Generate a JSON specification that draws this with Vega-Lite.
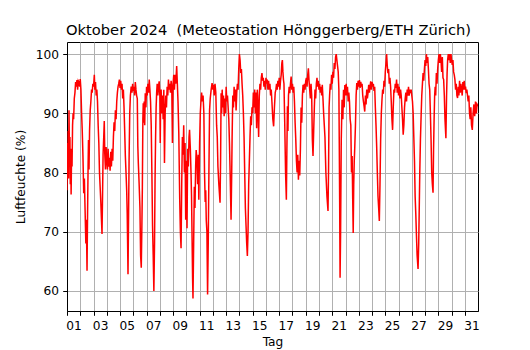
{
"$schema": "https://vega.github.io/schema/vega-lite/v6.json",
"width": 411, "height": 269,
"autosize": {"type": "none"},
"padding": {"left": 67, "top": 42, "right": 52, "bottom": 39},
"background": "white",
"config": {"view": {"stroke": "black", "strokeWidth": 1}, "font": "DejaVu Sans"},
"title": {"text": "Oktober 2024\u00a0 (Meteostation Hönggerberg/ETH Zürich)", "font": "DejaVu Sans", "fontSize": 14.7, "fontWeight": "normal", "color": "black", "anchor": "middle", "baseline": "alphabetic", "offset": 7, "dy": 15, "dx": -4},
"data": {"values": [
{"tag":1.00,"rh":77},{"tag":1.03,"rh":85},{"tag":1.06,"rh":80},{"tag":1.09,"rh":87},{"tag":1.12,"rh":79},{"tag":1.15,"rh":90.5},{"tag":1.19,"rh":82},{"tag":1.22,"rh":86},{"tag":1.25,"rh":78},{"tag":1.28,"rh":84},{"tag":1.31,"rh":76.3},{"tag":1.35,"rh":84},{"tag":1.38,"rh":81},{"tag":1.42,"rh":88},{"tag":1.46,"rh":90},{"tag":1.50,"rh":89},{"tag":1.55,"rh":92.5},{"tag":1.60,"rh":93.5},{"tag":1.65,"rh":95.3},{"tag":1.70,"rh":94.5},{"tag":1.75,"rh":95.6},{"tag":1.80,"rh":94},{"tag":1.85,"rh":95.5},{"tag":1.90,"rh":95.3},{"tag":1.95,"rh":94.5},{"tag":2.00,"rh":95.8},
{"tag":2.05,"rh":94},{"tag":2.10,"rh":90},{"tag":2.15,"rh":87},{"tag":2.20,"rh":83},{"tag":2.26,"rh":76.5},{"tag":2.31,"rh":79},{"tag":2.36,"rh":74},{"tag":2.42,"rh":68},{"tag":2.46,"rh":72},{"tag":2.51,"rh":63.4},{"tag":2.55,"rh":73},{"tag":2.59,"rh":81},{"tag":2.62,"rh":85.5},{"tag":2.66,"rh":80.5},{"tag":2.70,"rh":87},{"tag":2.75,"rh":90.5},{"tag":2.80,"rh":92},{"tag":2.85,"rh":94},{"tag":2.90,"rh":93.5},{"tag":2.95,"rh":95},{"tag":3.00,"rh":94.5},
{"tag":3.06,"rh":96.5},{"tag":3.10,"rh":94},{"tag":3.15,"rh":95.3},{"tag":3.20,"rh":93},{"tag":3.25,"rh":94},{"tag":3.30,"rh":92},{"tag":3.35,"rh":88},{"tag":3.40,"rh":85},{"tag":3.45,"rh":80},{"tag":3.50,"rh":77.5},{"tag":3.55,"rh":75},{"tag":3.60,"rh":72},{"tag":3.64,"rh":69.6},{"tag":3.68,"rh":76},{"tag":3.72,"rh":83},{"tag":3.77,"rh":86},{"tag":3.81,"rh":88.7},{"tag":3.85,"rh":83},{"tag":3.90,"rh":80.5},{"tag":3.95,"rh":84.3},{"tag":4.00,"rh":82},
{"tag":4.05,"rh":80.5},{"tag":4.10,"rh":84},{"tag":4.15,"rh":81},{"tag":4.20,"rh":82.5},{"tag":4.25,"rh":80.3},{"tag":4.30,"rh":83.5},{"tag":4.35,"rh":81},{"tag":4.40,"rh":84},{"tag":4.45,"rh":82},{"tag":4.50,"rh":86},{"tag":4.55,"rh":88.5},{"tag":4.60,"rh":87},{"tag":4.65,"rh":90.5},{"tag":4.70,"rh":89},{"tag":4.75,"rh":92},{"tag":4.80,"rh":93.5},{"tag":4.85,"rh":94.5},{"tag":4.90,"rh":95},{"tag":4.95,"rh":95.7},{"tag":5.00,"rh":94.3},
{"tag":5.05,"rh":95.5},{"tag":5.10,"rh":94},{"tag":5.15,"rh":95},{"tag":5.20,"rh":92.5},{"tag":5.25,"rh":94},{"tag":5.30,"rh":91},{"tag":5.35,"rh":87},{"tag":5.40,"rh":82.8},{"tag":5.45,"rh":80},{"tag":5.50,"rh":77},{"tag":5.54,"rh":73},{"tag":5.57,"rh":68},{"tag":5.60,"rh":62.8},{"tag":5.64,"rh":72},{"tag":5.68,"rh":82},{"tag":5.73,"rh":90},{"tag":5.78,"rh":93},{"tag":5.84,"rh":94.5},{"tag":5.90,"rh":93.5},{"tag":5.95,"rh":95},{"tag":6.00,"rh":93.8},
{"tag":6.05,"rh":94.5},{"tag":6.10,"rh":93},{"tag":6.15,"rh":95.3},{"tag":6.20,"rh":94},{"tag":6.25,"rh":93},{"tag":6.30,"rh":92.5},{"tag":6.34,"rh":84.5},{"tag":6.38,"rh":81.5},{"tag":6.44,"rh":78},{"tag":6.50,"rh":74},{"tag":6.55,"rh":66},{"tag":6.60,"rh":63.9},{"tag":6.64,"rh":70},{"tag":6.68,"rh":77},{"tag":6.72,"rh":89},{"tag":6.75,"rh":91.7},{"tag":6.78,"rh":88.4},{"tag":6.82,"rh":92},{"tag":6.86,"rh":88},{"tag":6.90,"rh":93.4},{"tag":6.95,"rh":91},{"tag":7.00,"rh":94.5},
{"tag":7.05,"rh":93},{"tag":7.10,"rh":95},{"tag":7.15,"rh":93.5},{"tag":7.20,"rh":95.7},{"tag":7.25,"rh":94},{"tag":7.30,"rh":92},{"tag":7.35,"rh":88},{"tag":7.40,"rh":80},{"tag":7.45,"rh":71},{"tag":7.50,"rh":66},{"tag":7.55,"rh":60},{"tag":7.60,"rh":68},{"tag":7.64,"rh":79},{"tag":7.68,"rh":86},{"tag":7.72,"rh":91},{"tag":7.76,"rh":93.5},{"tag":7.80,"rh":95},{"tag":7.85,"rh":93},{"tag":7.90,"rh":94.5},{"tag":7.95,"rh":95.4},{"tag":8.00,"rh":93},
{"tag":8.03,"rh":85},{"tag":8.06,"rh":92},{"tag":8.10,"rh":94},{"tag":8.15,"rh":90},{"tag":8.20,"rh":93},{"tag":8.25,"rh":89},{"tag":8.30,"rh":94},{"tag":8.35,"rh":81.6},{"tag":8.40,"rh":90},{"tag":8.45,"rh":93},{"tag":8.50,"rh":91},{"tag":8.55,"rh":94.5},{"tag":8.60,"rh":93},{"tag":8.65,"rh":95.7},{"tag":8.70,"rh":94},{"tag":8.75,"rh":95},{"tag":8.80,"rh":93.5},{"tag":8.85,"rh":95.5},{"tag":8.90,"rh":94.5},{"tag":8.95,"rh":85},{"tag":8.98,"rh":92},{"tag":9.00,"rh":95},
{"tag":9.05,"rh":96.5},{"tag":9.10,"rh":94},{"tag":9.15,"rh":96.5},{"tag":9.20,"rh":95},{"tag":9.27,"rh":98},{"tag":9.32,"rh":95},{"tag":9.37,"rh":92},{"tag":9.43,"rh":86.6},{"tag":9.47,"rh":80},{"tag":9.50,"rh":75.4},{"tag":9.55,"rh":70},{"tag":9.60,"rh":67.2},{"tag":9.65,"rh":78},{"tag":9.70,"rh":86},{"tag":9.75,"rh":83},{"tag":9.80,"rh":88},{"tag":9.85,"rh":80},{"tag":9.90,"rh":85},{"tag":9.95,"rh":72},{"tag":10.00,"rh":82},
{"tag":10.05,"rh":70.6},{"tag":10.10,"rh":84},{"tag":10.15,"rh":81},{"tag":10.20,"rh":86},{"tag":10.24,"rh":87.2},{"tag":10.30,"rh":84},{"tag":10.35,"rh":80},{"tag":10.39,"rh":76},{"tag":10.43,"rh":69},{"tag":10.47,"rh":62},{"tag":10.50,"rh":58.7},{"tag":10.55,"rh":68},{"tag":10.60,"rh":77.6},{"tag":10.65,"rh":74},{"tag":10.70,"rh":81},{"tag":10.74,"rh":83.8},{"tag":10.80,"rh":82},{"tag":10.85,"rh":78},{"tag":10.90,"rh":83},{"tag":10.94,"rh":75.4},{"tag":11.00,"rh":85},
{"tag":11.05,"rh":90},{"tag":11.10,"rh":92},{"tag":11.15,"rh":93.5},{"tag":11.20,"rh":92},{"tag":11.26,"rh":93},{"tag":11.32,"rh":90},{"tag":11.37,"rh":80},{"tag":11.42,"rh":75},{"tag":11.46,"rh":77},{"tag":11.50,"rh":72},{"tag":11.55,"rh":70},{"tag":11.60,"rh":59.4},{"tag":11.65,"rh":68},{"tag":11.70,"rh":80},{"tag":11.75,"rh":90.5},{"tag":11.80,"rh":92.5},{"tag":11.87,"rh":94},{"tag":11.94,"rh":95.1},{"tag":12.00,"rh":94},
{"tag":12.05,"rh":94.8},{"tag":12.10,"rh":93},{"tag":12.16,"rh":95},{"tag":12.22,"rh":93.5},{"tag":12.28,"rh":88},{"tag":12.33,"rh":86},{"tag":12.38,"rh":81},{"tag":12.45,"rh":78},{"tag":12.54,"rh":74.9},{"tag":12.58,"rh":82},{"tag":12.62,"rh":93.4},{"tag":12.66,"rh":90},{"tag":12.70,"rh":94},{"tag":12.75,"rh":91},{"tag":12.80,"rh":93},{"tag":12.85,"rh":89.5},{"tag":12.90,"rh":92.5},{"tag":12.95,"rh":90},{"tag":13.00,"rh":94.5},
{"tag":13.05,"rh":92},{"tag":13.10,"rh":93},{"tag":13.15,"rh":91},{"tag":13.20,"rh":89},{"tag":13.25,"rh":85},{"tag":13.30,"rh":80},{"tag":13.37,"rh":72},{"tag":13.42,"rh":80},{"tag":13.45,"rh":86},{"tag":13.50,"rh":93},{"tag":13.55,"rh":91},{"tag":13.60,"rh":94.5},{"tag":13.65,"rh":92},{"tag":13.70,"rh":94},{"tag":13.75,"rh":90.5},{"tag":13.80,"rh":93.5},{"tag":13.85,"rh":95},{"tag":13.90,"rh":94},{"tag":13.95,"rh":97.5},{"tag":14.00,"rh":100},
{"tag":14.05,"rh":99},{"tag":14.10,"rh":96.8},{"tag":14.15,"rh":97.5},{"tag":14.20,"rh":95},{"tag":14.25,"rh":93},{"tag":14.30,"rh":90},{"tag":14.35,"rh":86},{"tag":14.40,"rh":80},{"tag":14.45,"rh":74},{"tag":14.50,"rh":71},{"tag":14.55,"rh":68},{"tag":14.60,"rh":65.9},{"tag":14.65,"rh":70},{"tag":14.70,"rh":78},{"tag":14.75,"rh":82},{"tag":14.80,"rh":86},{"tag":14.85,"rh":89.5},{"tag":14.90,"rh":88},{"tag":14.95,"rh":91},{"tag":15.00,"rh":90},
{"tag":15.05,"rh":93.5},{"tag":15.10,"rh":91},{"tag":15.15,"rh":94},{"tag":15.20,"rh":90},{"tag":15.25,"rh":93.5},{"tag":15.30,"rh":87.5},{"tag":15.35,"rh":94},{"tag":15.40,"rh":91},{"tag":15.45,"rh":86},{"tag":15.50,"rh":93},{"tag":15.55,"rh":95},{"tag":15.60,"rh":94},{"tag":15.65,"rh":96},{"tag":15.70,"rh":96.8},{"tag":15.75,"rh":95.5},{"tag":15.80,"rh":96},{"tag":15.85,"rh":94.5},{"tag":15.90,"rh":95.5},{"tag":15.95,"rh":94},{"tag":16.00,"rh":96},
{"tag":16.05,"rh":95},{"tag":16.10,"rh":95.7},{"tag":16.15,"rh":94},{"tag":16.20,"rh":95.5},{"tag":16.25,"rh":94},{"tag":16.30,"rh":95},{"tag":16.35,"rh":93},{"tag":16.40,"rh":94},{"tag":16.45,"rh":92},{"tag":16.52,"rh":89},{"tag":16.58,"rh":87.8},{"tag":16.64,"rh":91},{"tag":16.70,"rh":93.5},{"tag":16.75,"rh":94},{"tag":16.80,"rh":95},{"tag":16.85,"rh":94},{"tag":16.90,"rh":95.5},{"tag":16.95,"rh":94.5},{"tag":17.00,"rh":96},
{"tag":17.05,"rh":94},{"tag":17.10,"rh":95.5},{"tag":17.15,"rh":96.5},{"tag":17.20,"rh":98.5},{"tag":17.24,"rh":99},{"tag":17.28,"rh":97},{"tag":17.32,"rh":95.7},{"tag":17.36,"rh":95},{"tag":17.42,"rh":88},{"tag":17.48,"rh":80},{"tag":17.54,"rh":75.4},{"tag":17.58,"rh":84},{"tag":17.62,"rh":91.2},{"tag":17.66,"rh":87},{"tag":17.70,"rh":93},{"tag":17.75,"rh":94.5},{"tag":17.80,"rh":93.4},{"tag":17.85,"rh":95},{"tag":17.90,"rh":96.2},{"tag":17.95,"rh":94},{"tag":18.00,"rh":95},
{"tag":18.05,"rh":93.5},{"tag":18.10,"rh":94.5},{"tag":18.15,"rh":92},{"tag":18.20,"rh":88.4},{"tag":18.25,"rh":85.6},{"tag":18.30,"rh":82},{"tag":18.35,"rh":80},{"tag":18.40,"rh":83},{"tag":18.45,"rh":78.8},{"tag":18.50,"rh":82},{"tag":18.55,"rh":79.5},{"tag":18.60,"rh":84},{"tag":18.65,"rh":91},{"tag":18.70,"rh":88.4},{"tag":18.75,"rh":93},{"tag":18.80,"rh":94.8},{"tag":18.85,"rh":93.5},{"tag":18.90,"rh":95},{"tag":18.95,"rh":94},{"tag":19.00,"rh":95.5},
{"tag":19.05,"rh":96},{"tag":19.10,"rh":94.5},{"tag":19.15,"rh":96.5},{"tag":19.20,"rh":97.6},{"tag":19.25,"rh":95.5},{"tag":19.30,"rh":94},{"tag":19.35,"rh":92.5},{"tag":19.40,"rh":95},{"tag":19.45,"rh":93},{"tag":19.50,"rh":85.6},{"tag":19.55,"rh":82.8},{"tag":19.60,"rh":87},{"tag":19.65,"rh":91},{"tag":19.70,"rh":94},{"tag":19.75,"rh":92.5},{"tag":19.80,"rh":95},{"tag":19.85,"rh":96},{"tag":19.90,"rh":94.5},{"tag":19.95,"rh":95.5},{"tag":20.00,"rh":94},
{"tag":20.05,"rh":95},{"tag":20.10,"rh":93.5},{"tag":20.15,"rh":94.5},{"tag":20.20,"rh":93},{"tag":20.25,"rh":94.8},{"tag":20.30,"rh":92.5},{"tag":20.35,"rh":90},{"tag":20.40,"rh":88},{"tag":20.45,"rh":86},{"tag":20.52,"rh":80},{"tag":20.60,"rh":76},{"tag":20.68,"rh":73.5},{"tag":20.72,"rh":80},{"tag":20.76,"rh":91},{"tag":20.80,"rh":93},{"tag":20.85,"rh":95},{"tag":20.90,"rh":94},{"tag":20.95,"rh":96.5},{"tag":21.00,"rh":95},
{"tag":21.05,"rh":97},{"tag":21.10,"rh":96},{"tag":21.15,"rh":98.5},{"tag":21.20,"rh":97.5},{"tag":21.25,"rh":99.5},{"tag":21.30,"rh":100},{"tag":21.35,"rh":99},{"tag":21.40,"rh":98},{"tag":21.45,"rh":97},{"tag":21.50,"rh":94},{"tag":21.53,"rh":85},{"tag":21.56,"rh":75},{"tag":21.59,"rh":62.2},{"tag":21.63,"rh":70},{"tag":21.68,"rh":85.6},{"tag":21.74,"rh":92.3},{"tag":21.80,"rh":89},{"tag":21.85,"rh":94},{"tag":21.90,"rh":91},{"tag":21.95,"rh":94.8},{"tag":22.00,"rh":93},
{"tag":22.05,"rh":95},{"tag":22.10,"rh":93},{"tag":22.15,"rh":94.5},{"tag":22.20,"rh":92},{"tag":22.25,"rh":93.5},{"tag":22.30,"rh":92},{"tag":22.35,"rh":89},{"tag":22.40,"rh":88},{"tag":22.45,"rh":80},{"tag":22.50,"rh":82.8},{"tag":22.54,"rh":76},{"tag":22.58,"rh":69.8},{"tag":22.62,"rh":78},{"tag":22.66,"rh":82},{"tag":22.70,"rh":84.4},{"tag":22.75,"rh":88},{"tag":22.80,"rh":93},{"tag":22.85,"rh":95.1},{"tag":22.90,"rh":94},{"tag":22.95,"rh":95.5},{"tag":23.00,"rh":94.5},
{"tag":23.05,"rh":95.6},{"tag":23.10,"rh":94.3},{"tag":23.15,"rh":95.3},{"tag":23.20,"rh":94.5},{"tag":23.25,"rh":95},{"tag":23.30,"rh":93},{"tag":23.35,"rh":92},{"tag":23.40,"rh":91.2},{"tag":23.45,"rh":90.3},{"tag":23.50,"rh":93},{"tag":23.55,"rh":91.5},{"tag":23.60,"rh":94},{"tag":23.65,"rh":92.5},{"tag":23.70,"rh":93.5},{"tag":23.75,"rh":94.8},{"tag":23.80,"rh":93.5},{"tag":23.85,"rh":94.5},{"tag":23.90,"rh":95.4},{"tag":23.95,"rh":94},{"tag":24.00,"rh":95.3},
{"tag":24.05,"rh":94.5},{"tag":24.10,"rh":95},{"tag":24.15,"rh":93.8},{"tag":24.20,"rh":94.5},{"tag":24.25,"rh":91},{"tag":24.30,"rh":88},{"tag":24.35,"rh":84.4},{"tag":24.40,"rh":80},{"tag":24.45,"rh":76},{"tag":24.50,"rh":74},{"tag":24.55,"rh":71.8},{"tag":24.60,"rh":78},{"tag":24.65,"rh":85.6},{"tag":24.70,"rh":90},{"tag":24.75,"rh":92.3},{"tag":24.80,"rh":94},{"tag":24.85,"rh":93.3},{"tag":24.90,"rh":95.5},{"tag":24.95,"rh":94.5},{"tag":25.00,"rh":97},
{"tag":25.05,"rh":98.5},{"tag":25.10,"rh":100},{"tag":25.15,"rh":98},{"tag":25.20,"rh":96.8},{"tag":25.25,"rh":97.5},{"tag":25.30,"rh":95},{"tag":25.35,"rh":96},{"tag":25.40,"rh":94.5},{"tag":25.45,"rh":92},{"tag":25.50,"rh":89},{"tag":25.55,"rh":87.2},{"tag":25.60,"rh":91},{"tag":25.65,"rh":94},{"tag":25.70,"rh":93.5},{"tag":25.75,"rh":95},{"tag":25.80,"rh":94.3},{"tag":25.85,"rh":95.7},{"tag":25.90,"rh":93.5},{"tag":25.95,"rh":95},{"tag":26.00,"rh":93},
{"tag":26.05,"rh":94.5},{"tag":26.10,"rh":92.5},{"tag":26.15,"rh":94},{"tag":26.20,"rh":93},{"tag":26.25,"rh":91},{"tag":26.30,"rh":89},{"tag":26.35,"rh":86.4},{"tag":26.40,"rh":88},{"tag":26.45,"rh":91},{"tag":26.50,"rh":92.5},{"tag":26.55,"rh":93.5},{"tag":26.60,"rh":92},{"tag":26.65,"rh":94},{"tag":26.70,"rh":93},{"tag":26.75,"rh":94.5},{"tag":26.80,"rh":93},{"tag":26.85,"rh":94},{"tag":26.90,"rh":93.4},{"tag":26.95,"rh":94},{"tag":27.00,"rh":93},
{"tag":27.05,"rh":92},{"tag":27.10,"rh":90},{"tag":27.15,"rh":86},{"tag":27.20,"rh":82},{"tag":27.25,"rh":76},{"tag":27.30,"rh":73},{"tag":27.35,"rh":69.3},{"tag":27.40,"rh":66},{"tag":27.47,"rh":63.7},{"tag":27.52,"rh":68},{"tag":27.56,"rh":74},{"tag":27.60,"rh":80},{"tag":27.65,"rh":85.6},{"tag":27.70,"rh":89.5},{"tag":27.75,"rh":93},{"tag":27.80,"rh":95},{"tag":27.85,"rh":96.8},{"tag":27.90,"rh":95.5},{"tag":27.95,"rh":97.5},{"tag":28.00,"rh":99},
{"tag":28.05,"rh":98},{"tag":28.10,"rh":100},{"tag":28.15,"rh":98.5},{"tag":28.20,"rh":99.5},{"tag":28.25,"rh":97.5},{"tag":28.30,"rh":95},{"tag":28.35,"rh":94},{"tag":28.40,"rh":90},{"tag":28.45,"rh":85.6},{"tag":28.50,"rh":80},{"tag":28.55,"rh":78},{"tag":28.60,"rh":76.6},{"tag":28.64,"rh":84},{"tag":28.68,"rh":89},{"tag":28.72,"rh":92.9},{"tag":28.76,"rh":94.5},{"tag":28.80,"rh":93},{"tag":28.85,"rh":96.8},{"tag":28.90,"rh":95},{"tag":28.95,"rh":97.5},{"tag":29.00,"rh":99},
{"tag":29.05,"rh":100},{"tag":29.10,"rh":98.5},{"tag":29.15,"rh":100},{"tag":29.20,"rh":99},{"tag":29.25,"rh":97},{"tag":29.30,"rh":99.5},{"tag":29.35,"rh":96},{"tag":29.40,"rh":95.7},{"tag":29.45,"rh":93},{"tag":29.50,"rh":89},{"tag":29.57,"rh":85.8},{"tag":29.62,"rh":93},{"tag":29.66,"rh":96.8},{"tag":29.70,"rh":99},{"tag":29.75,"rh":100},{"tag":29.80,"rh":99},{"tag":29.85,"rh":100},{"tag":29.90,"rh":98.5},{"tag":29.95,"rh":100},{"tag":30.00,"rh":99},
{"tag":30.05,"rh":98.2},{"tag":30.10,"rh":99},{"tag":30.15,"rh":97},{"tag":30.20,"rh":96.5},{"tag":30.25,"rh":95.7},{"tag":30.30,"rh":94},{"tag":30.35,"rh":95},{"tag":30.40,"rh":93},{"tag":30.45,"rh":92.6},{"tag":30.50,"rh":94.5},{"tag":30.55,"rh":93},{"tag":30.60,"rh":95.5},{"tag":30.65,"rh":93.5},{"tag":30.70,"rh":95},{"tag":30.75,"rh":94},{"tag":30.80,"rh":93},{"tag":30.85,"rh":95.3},{"tag":30.90,"rh":94},{"tag":30.95,"rh":95.5},{"tag":31.00,"rh":94},
{"tag":31.05,"rh":94.5},{"tag":31.10,"rh":93.4},{"tag":31.15,"rh":94},{"tag":31.20,"rh":93},{"tag":31.25,"rh":92},{"tag":31.30,"rh":93},{"tag":31.35,"rh":90},{"tag":31.40,"rh":89},{"tag":31.45,"rh":91},{"tag":31.50,"rh":88},{"tag":31.56,"rh":87.2},{"tag":31.62,"rh":90},{"tag":31.68,"rh":91.5},{"tag":31.74,"rh":89.5},{"tag":31.80,"rh":92},{"tag":31.86,"rh":90},{"tag":31.92,"rh":91.5},{"tag":31.99,"rh":91.2}
]},
"mark": {"type": "line", "color": "#ff0000", "strokeWidth": 1.5, "clip": true},
"encoding": {
  "x": {"field": "tag", "type": "quantitative",
        "scale": {"domain": [1, 31.99], "nice": false, "zero": false},
        "axis": {"values": [1,2,3,4,5,6,7,8,9,10,11,12,13,14,15,16,17,18,19,20,21,22,23,24,25,26,27,28,29,30,31],
                 "labelExpr": "datum.value % 2 == 1 ? (datum.value < 10 ? '0' : '') + datum.value : ''",
                 "labelOffset": 6.6, "labelFlush": false, "labelOverlap": false, "labelBound": false,
                 "grid": true, "gridColor": "#b0b0b0", "gridWidth": 1, "gridOpacity": 1,
                 "tickColor": "black", "tickSize": 4.3, "tickWidth": 1, "domainColor": "black",
                 "labelColor": "black", "labelFont": "DejaVu Sans", "labelFontSize": 12.2, "labelPadding": 4,
                 "title": "Tag", "titleFont": "DejaVu Sans", "titleFontSize": 12.2, "titleFontWeight": "normal", "titleColor": "black", "titlePadding": 4}},
  "y": {"field": "rh", "type": "quantitative",
        "scale": {"domain": [56.6, 102.05], "nice": false, "zero": false},
        "axis": {"values": [60, 70, 80, 90, 100],
                 "grid": true, "gridColor": "#b0b0b0", "gridWidth": 1, "gridOpacity": 1,
                 "tickColor": "black", "tickSize": 4.3, "tickWidth": 1, "domainColor": "black",
                 "labelColor": "black", "labelFont": "DejaVu Sans", "labelFontSize": 12.2, "labelPadding": 4.3,
                 "title": "Luftfeuchte (%)", "titleFont": "DejaVu Sans", "titleFontSize": 12.2, "titleFontWeight": "normal", "titleColor": "black", "titlePadding": 8}}
}
}
